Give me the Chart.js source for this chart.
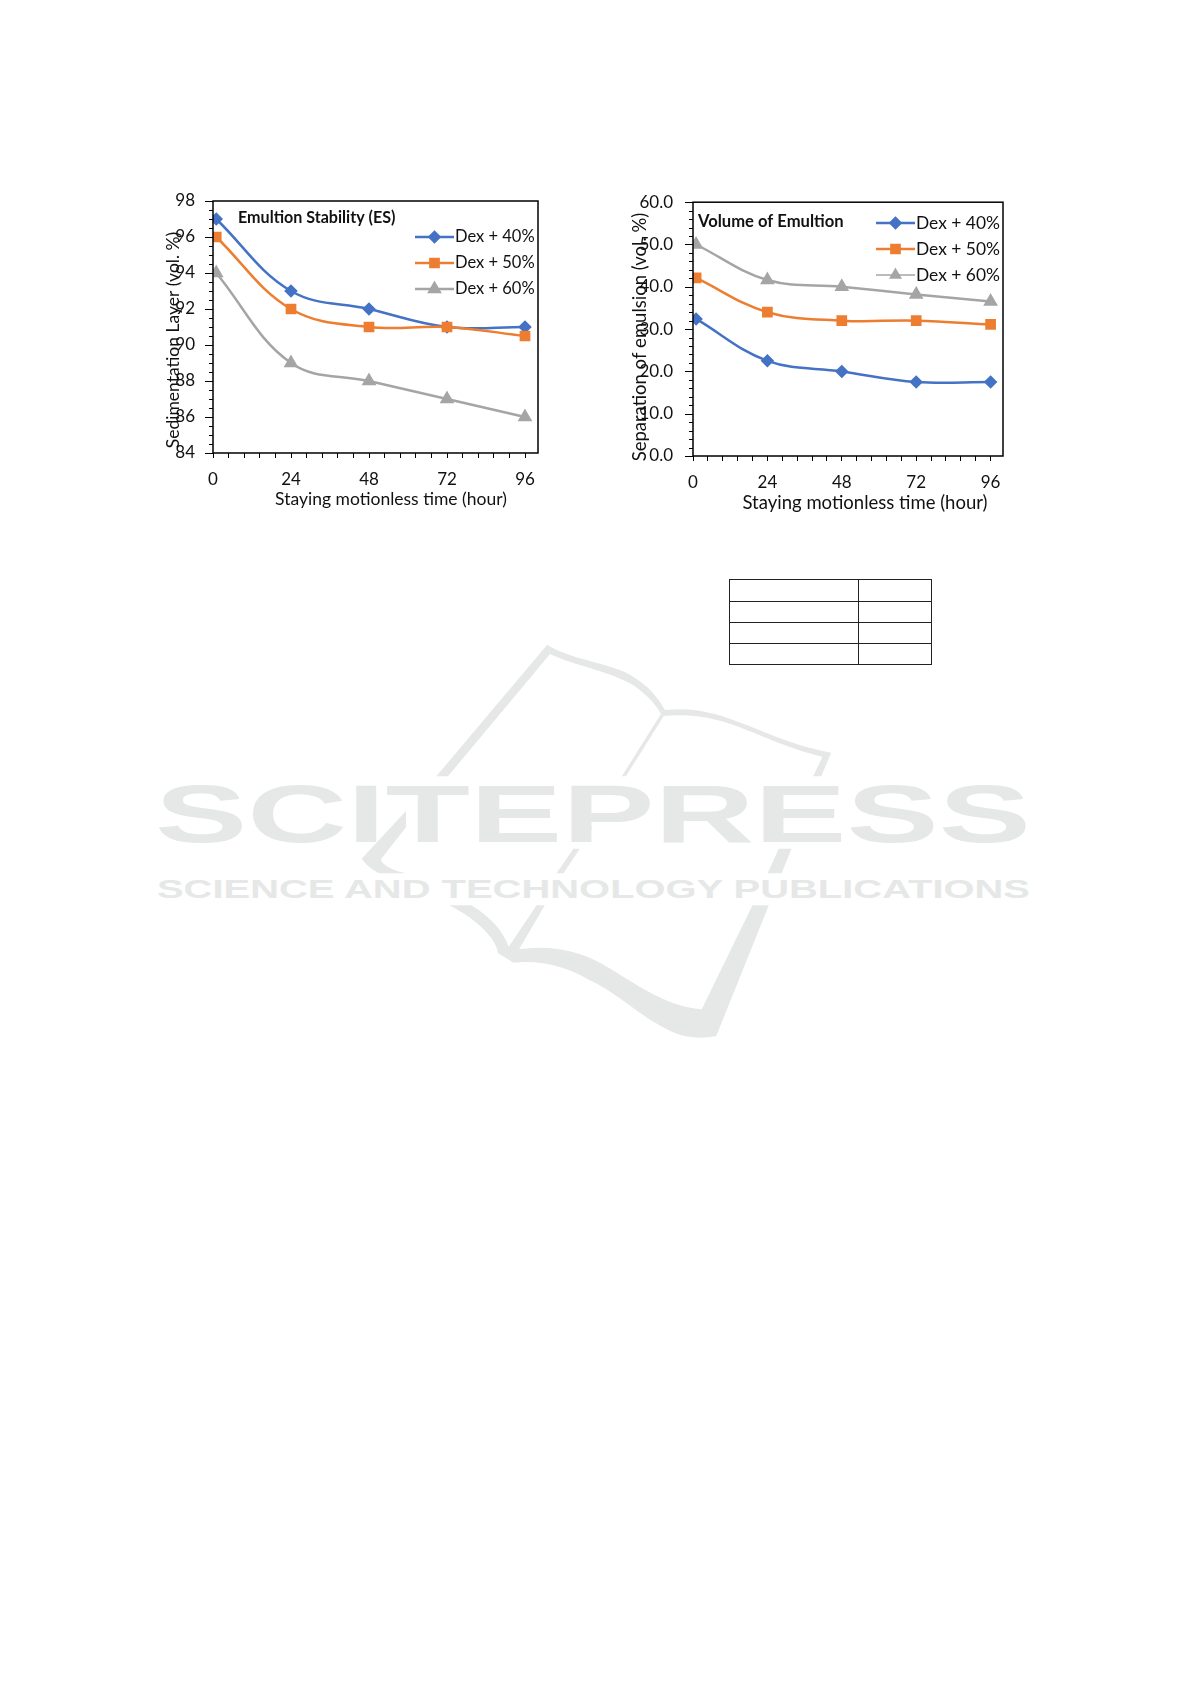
<!DOCTYPE html>
<html>
<head>
<meta charset="utf-8">
<title>Emulsion charts</title>
<script src="https://cdn.jsdelivr.net/npm/chart.js@4/dist/chart.umd.min.js"></script>
<style>
	html, body { margin: 0; padding: 0; background: #fff; }
	#page { position: relative; width: 1191px; height: 1684px; overflow: hidden; }
	#mark { position: absolute; left: 0; top: 0; }
	.plot { position: absolute; top: 180px; width: 440px; height: 340px; }
	#leftPlot { left: 130px; }
	#rightPlot { left: 610px; }
	table { position: absolute; left: 729px; top: 579px; width: 203px; height: 86px; border-collapse: collapse; }
	td { border: 1px solid #222; padding: 0; }
</style>
</head>
<body>
<div id="page">
	<svg id="mark" width="1191" height="1684">
		<g transform="translate(140,630) scale(0.5833,0.3333)" fill="#e6e8e7">
			<path d="M698 44 L508 439 L528 439 L703 72 C740 105 800 120 845 165 C870 195 885 225 893 252 L826 439 L833 439 L898 258 C950 250 990 265 1040 300 C1090 335 1130 365 1170 380 L1154 439 L1168 439 L1185 368 C1130 350 1090 320 1040 285 C990 250 950 230 900 240 C885 190 860 150 830 125 C790 95 735 85 698 44 Z"/>
			<path d="M456 543 L380 686 C390 710 400 720 410 730 L456 730 C430 720 415 705 413 688 L456 592 Z"/>
			<path d="M765 592 L776 592 L765 625 Z"/>
			<path d="M743 656 L754 656 L726 730 L714 730 Z"/>
			<path d="M1095 656 L1117 656 L1100 730 L1076 730 Z"/>
			<path d="M530 826 L568 826 C600 860 622 900 632 950 L680 826 L694 826 L650 958 C700 945 750 960 790 1000 C850 1060 900 1130 963 1138 L1050 826 L1078 826 L988 1218 C960 1228 930 1225 900 1195 C850 1150 820 1090 770 1050 C730 1010 690 990 640 998 L614 970 C610 920 570 860 530 826 Z"/>
		</g>
		<text x="155" y="842" textLength="876" lengthAdjust="spacingAndGlyphs" font-family="Liberation Sans" font-weight="bold" font-size="82" fill="#e6e8e7">SCITEPRESS</text>
		<text x="157" y="898" textLength="873" lengthAdjust="spacingAndGlyphs" font-family="Liberation Sans" font-weight="bold" font-size="25" fill="#e6e8e7">SCIENCE AND TECHNOLOGY PUBLICATIONS</text>
	</svg>
	<div class="plot" id="leftPlot"><canvas id="esChart" width="440" height="340"></canvas></div>
	<div class="plot" id="rightPlot"><canvas id="volChart" width="440" height="340"></canvas></div>
	<table>
		<tr style="height:22px"><td style="width:128px"></td><td></td></tr>
		<tr><td></td><td></td></tr>
		<tr><td></td><td></td></tr>
		<tr><td></td><td></td></tr>
	</table>
</div>
<script>
// horas de repouso
var hours = [1, 24, 48, 72, 96]
var seriesNames = ['Dex + 40%', 'Dex + 50%', 'Dex + 60%']
var xTickLabels = [0, 24, 48, 72, 96]

var esDex40 = [97, 93, 92, 91, 91]
var esDex50 = [96, 92, 91, 91, 90.5]
var esDex60 = [94, 89, 88, 87, 86]
var esTicks = [84, 86, 88, 90, 92, 94, 96, 98]

var volDex40 = [32.4, 22.5, 20, 17.5, 17.5]
var volDex50 = [42.1, 34, 32, 32, 31.1]
var volDex60 = [50, 41.6, 40, 38.2, 36.5]
var volTicks = [0, 10, 20, 30, 40, 50, 60]

var colors = ['#4472C4', '#ED7D31', '#A5A5A5']
var markers = ['rectRot', 'rect', 'triangle']
var markerSizes = [5, 5.8, 6]
var font = 'Lato'

function toPoints(values) {
	return values.map(function (v, i) { return { x: hours[i], y: v } })
}

// ticks menores, moldura, legenda e textos soltos
var decorations = {
	id: 'decorations',
	afterDraw: function (chart, args, o) {
		var ctx = chart.ctx, a = chart.chartArea, y = chart.scales.y
		ctx.save()
		ctx.strokeStyle = '#000'
		ctx.lineWidth = 1
		for (var v = o.min; v <= o.max + 1e-6; v += o.minor) {
			var py = Math.round(y.getPixelForValue(v)) + 0.5
			var len = o.ticks.indexOf(Math.round(v * 100) / 100) >= 0 ? 8 : 4
			ctx.beginPath()
			ctx.moveTo(a.left - len, py)
			ctx.lineTo(a.left, py)
			ctx.stroke()
		}
		ctx.lineWidth = 1.5
		ctx.strokeRect(a.left, a.top, a.right - a.left, a.bottom - a.top)

		ctx.fillStyle = '#111'
		ctx.textBaseline = 'middle'
		ctx.textAlign = 'left'
		ctx.font = 'bold ' + o.titleSize + 'px ' + font
		ctx.fillText(o.title, o.titleX, o.titleY)

		seriesNames.forEach(function (name, i) {
			var ly = o.legendY + i * o.legendGap
			ctx.strokeStyle = colors[i]
			ctx.lineWidth = i == 2 && o.thinLast ? 1.5 : 2.5
			ctx.beginPath()
			ctx.moveTo(o.legendX, ly)
			ctx.lineTo(o.legendX + 39, ly)
			ctx.stroke()
			ctx.fillStyle = colors[i]
			ctx.strokeStyle = colors[i]
			Chart.helpers.drawPoint(ctx, { pointStyle: markers[i], radius: markerSizes[i], borderWidth: 1 }, o.legendX + 19.5, ly)
			ctx.fillStyle = '#111'
			ctx.font = o.legendSize + 'px ' + font
			ctx.fillText(name, o.legendX + 40, ly)
		})

		ctx.textAlign = 'center'
		ctx.font = o.axisSize + 'px ' + font
		ctx.fillText(o.xTitle, o.xTitleX, o.xTitleY)
		ctx.translate(o.yTitleX, o.yTitleY)
		ctx.rotate(-Math.PI / 2)
		ctx.fillText(o.yTitle, 0, 0)
		ctx.restore()
	}
}

function makeChart(id, values, yMin, yMax, decimals, yPadding, padding, extra) {
	var xTicks = []
	for (var i = 0; i <= 20; i++) xTicks.push({ value: i * 4.8 })
	return new Chart(document.getElementById(id), {
		type: 'scatter',
		data: {
			datasets: seriesNames.map(function (name, i) {
				return {
					label: name,
					data: toPoints(values[i]),
					showLine: true,
					tension: 0.38,
					borderColor: colors[i],
					backgroundColor: colors[i],
					borderWidth: 2.5,
					pointStyle: markers[i],
					pointRadius: markerSizes[i],
					pointHoverRadius: markerSizes[i],
					order: 3 - i
				}
			})
		},
		options: {
			responsive: false,
			animation: false,
			layout: { padding: padding },
			plugins: {
				legend: { display: false },
				tooltip: { enabled: false },
				decorations: Object.assign({ min: yMin, max: yMax }, extra)
			},
			scales: {
				x: {
					type: 'linear',
					min: 0,
					max: 100,
					afterBuildTicks: function (s) { s.ticks = xTicks },
					afterFit: function (s) { s.height = 45 },
					grid: { display: true, drawOnChartArea: false, drawTicks: true, tickLength: 5, tickColor: '#000' },
					border: { display: false },
					ticks: {
						color: '#111',
						padding: 11,
						maxRotation: 0,
						autoSkip: false,
						font: { family: font, size: 17 },
						callback: function (v) {
							var k = xTickLabels.indexOf(Math.round(v))
							return k >= 0 && Math.abs(v - Math.round(v)) < 0.01 ? String(xTickLabels[k]) : ''
						}
					}
				},
				y: {
					min: yMin,
					max: yMax,
					afterBuildTicks: function (s) { s.ticks = extra.ticks.map(function (t) { return { value: t } }) },
					afterFit: function (s) { s.width = 83 },
					grid: { display: false },
					border: { display: false },
					ticks: {
						color: '#111',
						padding: yPadding,
						font: { family: font, size: 17 },
						callback: function (v) { return v.toFixed(decimals) }
					}
				}
			}
		},
		plugins: [decorations]
	})
}

window.onload = function () {
	makeChart('esChart', [esDex40, esDex50, esDex60], 84, 98, 0, 10, { left: 0, top: 21, right: 32, bottom: 22 }, {
		ticks: esTicks, minor: 0.5,
		title: 'Emultion Stability (ES)', titleX: 108, titleY: 38, titleSize: 16.1, axisSize: 17.5, legendSize: 16.5,
		legendX: 285, legendY: 57, legendGap: 26,
		xTitle: 'Staying motionless time (hour)', xTitleX: 261, xTitleY: 319,
		yTitle: 'Sedimentation Layer (vol. %)', yTitleX: 43, yTitleY: 160
	})
	makeChart('volChart', [volDex40, volDex50, volDex60], 0, 60, 1, 12, { left: 0, top: 21, right: 47, bottom: 19 }, {
		ticks: volTicks, minor: 2,
		title: 'Volume of Emultion', titleX: 88, titleY: 42, titleSize: 16.6, axisSize: 18.5, legendSize: 17.4,
		legendX: 266, legendY: 43, legendGap: 26, thinLast: true,
		xTitle: 'Staying motionless time (hour)', xTitleX: 255, xTitleY: 323,
		yTitle: 'Separation of emulsion (vol. %)', yTitleX: 30, yTitleY: 157
	})
}
</script>
</body>
</html>
